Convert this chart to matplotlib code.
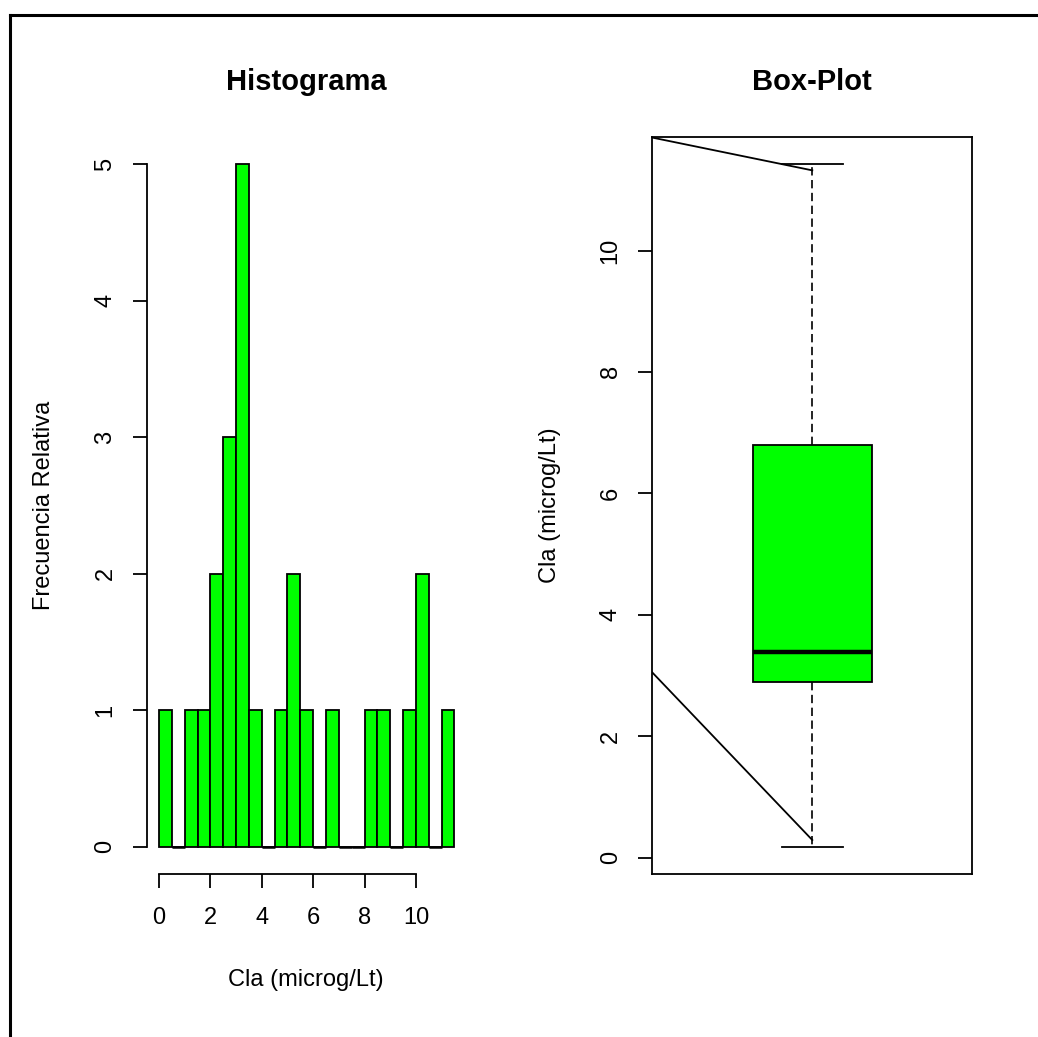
import matplotlib
matplotlib.use("Agg")
import matplotlib.pyplot as plt
from matplotlib.lines import Line2D
import numpy as np

plt.rcParams['font.family'] = ['Liberation Sans', 'DejaVu Sans']

# histogram: bin edges and counts
bin_edges = [0, 0.5, 1, 1.5, 2, 2.5, 3, 3.5, 4, 4.5, 5, 5.5, 6, 6.5, 7, 7.5,
             8, 8.5, 9, 9.5, 10, 10.5, 11, 11.5]
counts = [1, 0, 1, 1, 2, 3, 5, 1, 0, 1, 2, 1, 0, 1, 0, 0, 1, 1, 0, 1, 2, 0, 1]
hist_xticks = [0, 2, 4, 6, 8, 10]
hist_yticks = [0, 1, 2, 3, 4, 5]

# box-plot stats
box_lo = 0.18
box_q1 = 2.90
box_med = 3.39
box_q3 = 6.79
box_hi = 11.42
box_yticks = [0, 2, 4, 6, 8, 10]

# stray lines drawn on the box-plot panel
stray_x = [0.5, 1.0]
stray1_y = [11.86, 11.32]
stray2_y = [3.05, 0.29]

green = '#00FF00'
fs_tick = 17
fs_title = 21

fig = plt.figure(figsize=(10.38, 10.37), dpi=100)

# ---- histogram ----
ax1 = fig.add_axes([147/1038, 1-874/1037, 319/1038, 737/1037])
edges = np.array(bin_edges)
cnt = np.array(counts)
ax1.bar(edges[:-1], cnt, width=np.diff(edges), align='edge', color=green,
        edgecolor='black', linewidth=1.3)
# empty bins show as a flat line at zero
zero = cnt == 0
ax1.hlines(np.zeros(zero.sum()), edges[:-1][zero], edges[1:][zero],
           color='black', linewidth=1.8)
ax1.set_xlim(-0.467, 11.95)
ax1.set_ylim(-0.2, 5.2)
for s in ['top', 'right']:
    ax1.spines[s].set_visible(False)
ax1.spines['left'].set_bounds(0, 5)
ax1.spines['bottom'].set_bounds(0, 10)
for s in ['left', 'bottom']:
    ax1.spines[s].set_linewidth(1.3)
ax1.set_xticks(hist_xticks)
ax1.set_xticklabels([str(v) for v in hist_xticks])
ax1.set_yticks(hist_yticks)
ax1.set_yticklabels([str(v) for v in hist_yticks], rotation=90, va='center')
ax1.tick_params(length=10, width=1.3, labelsize=fs_tick)
ax1.tick_params(axis='x', pad=14)
ax1.tick_params(axis='y', pad=12)

# ---- box plot ----
ax2 = fig.add_axes([652.3/1038, 1-874/1037, 320/1038, 737/1037])
stats = [dict(whislo=box_lo, q1=box_q1, med=box_med, q3=box_q3, whishi=box_hi,
              fliers=[])]
ax2.bxp(stats, positions=[1], widths=0.373, capwidths=0.189, patch_artist=True,
        boxprops=dict(facecolor=green, edgecolor='black', linewidth=1.3),
        medianprops=dict(color='black', linewidth=3.2),
        whiskerprops=dict(color='black', linewidth=1.2, linestyle=(0, (5, 2.7))),
        capprops=dict(color='black', linewidth=1.3))
ax2.plot(stray_x, stray1_y, color='black', linewidth=1.3)
ax2.plot(stray_x, stray2_y, color='black', linewidth=1.3)
rng = box_hi - box_lo
ax2.set_xlim(0.5, 1.5)
ax2.set_ylim(box_lo - 0.04*rng, box_hi + 0.04*rng)
ax2.set_xticks([])
ax2.set_yticks(box_yticks)
ax2.set_yticklabels([str(v) for v in box_yticks], rotation=90, va='center')
ax2.tick_params(length=10, width=1.3, labelsize=fs_tick)
ax2.tick_params(axis='y', pad=12)
for s in ax2.spines.values():
    s.set_linewidth(1.3)

# ---- text ----
fig.text(306/1038, 1-82/1037, 'Histograma', ha='center', va='center',
         fontsize=fs_title, fontweight='bold')
fig.text(812/1038, 1-82/1037, 'Box-Plot', ha='center', va='center',
         fontsize=fs_title, fontweight='bold')
fig.text(306/1038, 1-980/1037, 'Cla (microg/Lt)', ha='center', va='center',
         fontsize=fs_tick)
fig.text(44/1038, 1-505/1037, 'Frecuencia Relativa', ha='center', va='center',
         rotation=90, fontsize=fs_tick)
fig.text(550/1038, 1-505/1037, 'Cla (microg/Lt)', ha='center', va='center',
         rotation=90, fontsize=fs_tick)

# outer frame (left and top edges visible)
fig.add_artist(Line2D([10/1038, 10/1038], [0, 1-15/1037], color='black',
                      linewidth=2.2, transform=fig.transFigure))
fig.add_artist(Line2D([10/1038, 1], [1-15/1037, 1-15/1037], color='black',
                      linewidth=2.2, transform=fig.transFigure))

fig.savefig('out.png', dpi=100)
